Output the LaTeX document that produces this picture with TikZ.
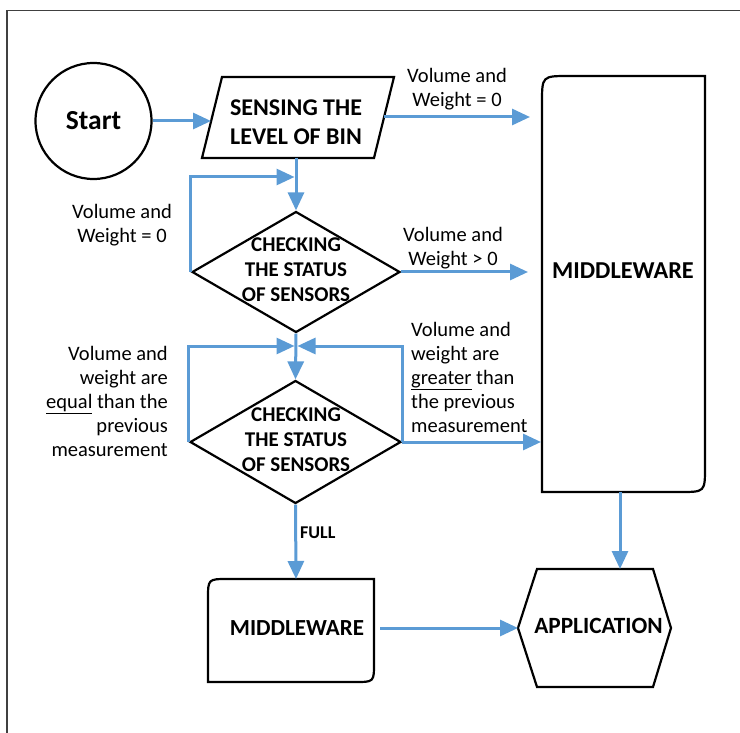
\documentclass[tikz,border=0pt]{standalone}
\usepackage{fontspec}
\setmainfont{Carlito}
\usetikzlibrary{arrows.meta,shapes.geometric}
\definecolor{flowblue}{RGB}{91,155,213}
\begin{document}
\begin{tikzpicture}[x=1pt,y=-1pt,
 arr/.style={draw=flowblue,line width=3pt,-{Triangle[length=18pt,width=16pt]}},
 shp/.style={draw=black,line width=2.2pt,line join=miter},
 btxt/.style={font=\fontsize{21}{25}\selectfont\bfseries,align=center,inner sep=0pt},
 ltxt/.style={font=\fontsize{20.5}{24}\selectfont,align=center,inner sep=0pt},
 dia/.style={diamond,shp,minimum width=208pt,minimum height=121pt,inner sep=0pt}]
\useasboundingbox (0,0) rectangle (740,733);
\draw[black!75,line width=1.3pt] (740,10.5) -- (7,10.5) -- (7,733);

% Start
\node[circle,shp,minimum size=116pt,inner sep=0pt,font=\fontsize{27.5}{30}\selectfont\bfseries] (start) at (93.5,121) {Start};

% Sensing parallelogram
\coordinate (pTL) at (222,77);
\coordinate (pTR) at (394,77);
\coordinate (pBR) at (374,158);
\coordinate (pBL) at (202,158);
\draw[shp] (pTL) -- (pTR) -- (pBR) -- (pBL) -- cycle;
\node[btxt,font=\fontsize{24}{29}\selectfont\bfseries] (sense) at (296,122) {SENSING THE\\LEVEL OF BIN};
\coordinate (senseW) at (211,121);
\coordinate (senseE) at (384,117);
\coordinate (senseS) at (296,158);

% Diamonds
\node[dia] (d1) at (296,272) {};
\node[btxt] (d1t) at (296,270) {CHECKING\\THE STATUS\\OF SENSORS};
\node[dia,minimum width=211pt,minimum height=123pt] (d2) at (295.5,442) {};
\node[btxt] (d2t) at (296,440) {CHECKING\\THE STATUS\\OF SENSORS};

% Big middleware
\draw[shp] (542,103) .. controls (542,76) .. (569,76) -- (705,76) -- (705,467) .. controls (705,492) .. (680,492) -- (542,492) -- cycle;
\node[btxt,font=\fontsize{24.3}{25}\selectfont\bfseries] (mw1) at (623,271) {MIDDLEWARE};
\coordinate (mw1S) at (620,492);
\coordinate (mwIn1) at (530,117);
\coordinate (mwIn2) at (528,272);
\coordinate (mwIn3) at (541,442);

% Bottom middleware
\draw[shp] (208,599) .. controls (208,579) .. (228,579) -- (374,579) -- (374,663) .. controls (374,682) .. (355,682) -- (208,682) -- cycle;
\node[btxt,font=\fontsize{23}{25}\selectfont\bfseries] (mw2) at (297,628) {MIDDLEWARE};
\coordinate (mw2N) at (296,579);
\coordinate (mw2E) at (380,628);

% Application
\draw[shp] (518,628) -- (537,569) -- (653,569) -- (671,628) -- (653,687) -- (537,687) -- cycle;
\node[btxt,font=\fontsize{23.3}{25}\selectfont\bfseries] (app) at (598.5,626) {APPLICATION};
\coordinate (appW) at (518,628);
\coordinate (appN) at (620,569);

% loop targets
\coordinate (loopA) at (294.5,177);
\coordinate (loopB) at (294.5,346);
\coordinate (loopC) at (297.5,346);

% Connectors
\draw[arr] (start.east) -- (senseW);
\draw[arr] (senseE) -- (mwIn1);
\draw[arr] (senseS) -- (d1.north);
\draw[arr] (d1.west) |- (loopA);
\draw[arr] (d1.east) -- (mwIn2);
\draw[arr] (d1.south) -- (d2.north);
\draw[arr] (d2.west) |- (loopB);
\draw[arr] (d2.east) |- (loopC);
\draw[arr] (d2.east) -- (mwIn3);
\draw[arr] (d2.south) -- (mw2N);
\draw[arr] (mw2E) -- (appW);
\draw[arr] (mw1S) -- (appN);

% Labels
\node[ltxt] (l1) at (457,89.5) {Volume and\\Weight = 0};
\node[ltxt] (l2) at (122,225.5) {Volume and\\Weight = 0};
\node[ltxt] (l3) at (453,248.5) {Volume and\\Weight > 0};
\node[ltxt,align=right,anchor=east] (l4) at (168,401) {Volume and\\weight are\\\underline{equal} than the\\previous\\measurement};
\node[ltxt,align=left,anchor=west] (l5) at (411,377) {Volume and\\weight are\\\underline{greater} than\\the previous\\measurement};
\node[font=\fontsize{18}{20}\selectfont\bfseries,anchor=west,inner sep=0pt] (full) at (300,533) {FULL};
\end{tikzpicture}
\end{document}
